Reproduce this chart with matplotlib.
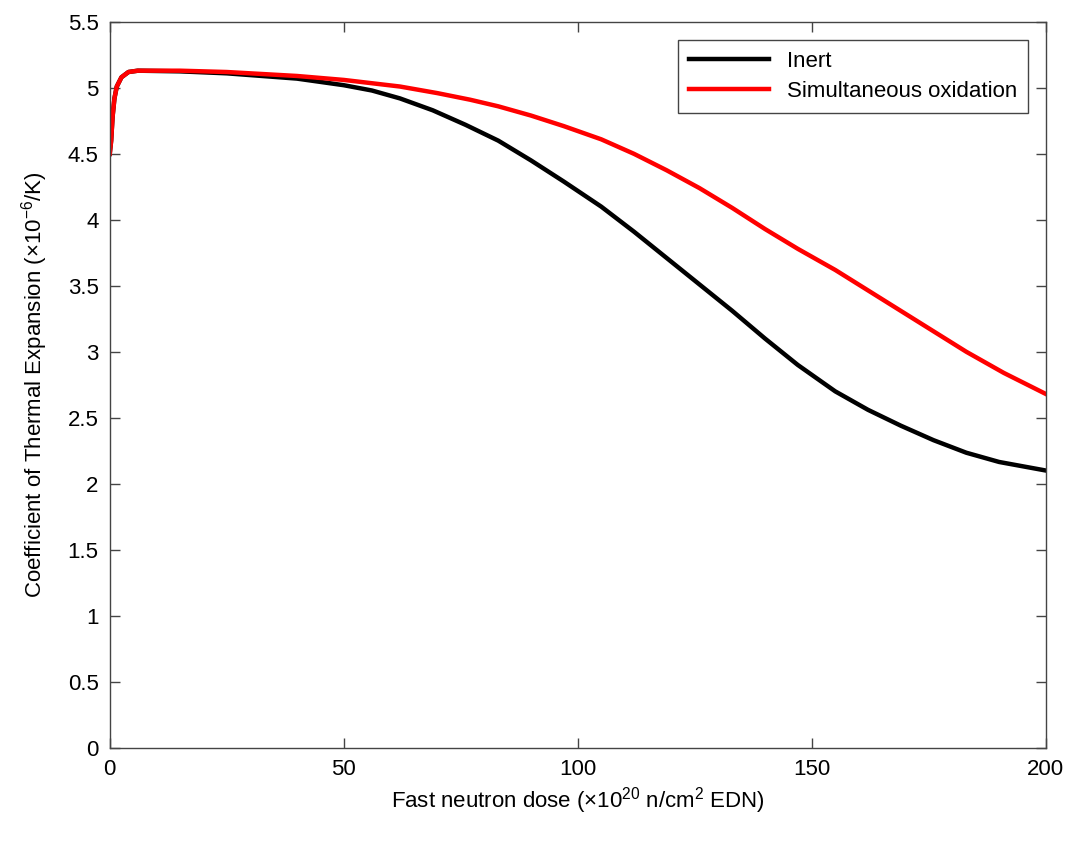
import matplotlib
matplotlib.use("Agg")
import matplotlib.pyplot as plt

plt.rcParams["font.family"] = ["Liberation Sans", "DejaVu Sans"]
plt.rcParams["mathtext.fontset"] = "custom"
plt.rcParams["mathtext.rm"] = "Liberation Sans"

# Inert
inert_x = [0, 0.3, 0.6, 1, 1.5, 2.5, 4, 6, 15, 25, 40, 50, 56, 62, 69, 76, 83,
           90, 97, 105, 112, 119, 126, 133, 140, 147, 155, 162, 169, 176, 183,
           190, 200]
inert_y = [4.50, 4.60, 4.78, 4.92, 5.01, 5.08, 5.12, 5.13, 5.125, 5.11, 5.07,
           5.02, 4.98, 4.92, 4.83, 4.72, 4.60, 4.45, 4.29, 4.10, 3.91, 3.71,
           3.51, 3.31, 3.10, 2.90, 2.70, 2.56, 2.44, 2.33, 2.235, 2.165, 2.10]

# Simultaneous oxidation
oxid_x = [0, 0.3, 0.6, 1, 1.5, 2.5, 4, 6, 15, 25, 40, 50, 62, 70, 77, 83, 90,
          97, 105, 112, 119, 126, 133, 140, 147, 155, 162, 169, 176, 183, 191,
          200]
oxid_y = [4.50, 4.60, 4.78, 4.92, 5.01, 5.08, 5.12, 5.13, 5.13, 5.12, 5.09,
          5.06, 5.01, 4.96, 4.91, 4.86, 4.79, 4.71, 4.61, 4.50, 4.375, 4.24,
          4.09, 3.93, 3.78, 3.62, 3.465, 3.31, 3.155, 3.00, 2.84, 2.68]

x_ticks = [0, 50, 100, 150, 200]
y_ticks = [0, 0.5, 1, 1.5, 2, 2.5, 3, 3.5, 4, 4.5, 5, 5.5]
y_ticklabels = ["0", "0.5", "1", "1.5", "2", "2.5", "3", "3.5", "4", "4.5", "5", "5.5"]

fig = plt.figure(figsize=(10.76, 8.41), dpi=100)
ax = fig.add_axes([0.102, 0.111, 0.870, 0.863])

ax.plot(inert_x, inert_y, color="black", lw=3.2, label="Inert",
        solid_joinstyle="round")
ax.plot(oxid_x, oxid_y, color="red", lw=3.2, label="Simultaneous oxidation",
        solid_joinstyle="round")

ax.set_xlim(0, 200)
ax.set_ylim(0, 5.5)
ax.set_xticks(x_ticks)
ax.set_yticks(y_ticks)
ax.set_yticklabels(y_ticklabels)
ax.tick_params(direction="in", top=True, right=True, labelsize=16, length=7,
               width=1, color="#444444", pad=8)
for s in ax.spines.values():
    s.set_color("#444444")
    s.set_linewidth(1)

ax.set_xlabel(r"Fast neutron dose ($\times$10$^{20}$ n/cm$^{2}$ EDN)", fontsize=16)
ax.set_ylabel(r"Coefficient of Thermal Expansion ($\times$10$^{-6}$/K)", fontsize=16,
              labelpad=13)

leg = ax.legend(loc="upper right", fontsize=16, fancybox=False, framealpha=1,
                edgecolor="#444444", handlelength=3.6, borderaxespad=0.8,
                borderpad=0.5, labelspacing=0.4)
leg.get_frame().set_linewidth(1)

fig.savefig("out.png", dpi=100)
